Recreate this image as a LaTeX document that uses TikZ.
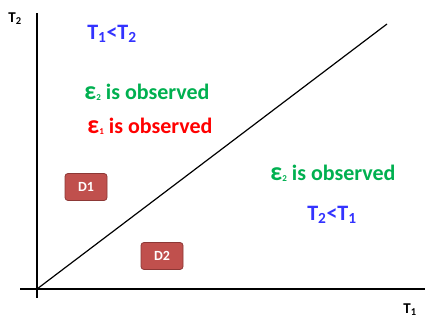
\documentclass[tikz,border=0pt]{standalone}
\usepackage{fontspec}
\setmainfont{Carlito}
\usepackage{tikz}
\usetikzlibrary{arrows.meta}

\definecolor{ltblue}{HTML}{3333FF}
\definecolor{obsgreen}{HTML}{00B050}
\definecolor{obsred}{HTML}{FF0000}
\definecolor{boxfill}{HTML}{C0504D}
\definecolor{boxline}{HTML}{8C3836}

\tikzset{
  dbox/.style={draw=boxline, fill=boxfill, rounded corners=3pt, line width=0.8pt,
    minimum width=42pt, minimum height=27pt, text=white, font=\bfseries\fontsize{14}{14}\selectfont},
  obs/.style={font=\bfseries\fontsize{22}{22}\selectfont},
  rel/.style={text=ltblue, font=\bfseries\fontsize{22}{22}\selectfont},
}
\newcommand{\epsub}[1]{{\fontsize{26}{26}\selectfont ε}{\fontsize{9}{9}\selectfont\raisebox{-1pt}{#1}}}

\begin{document}
\begin{tikzpicture}[x=1pt, y=1pt, >=stealth]
  \useasboundingbox (0,0) rectangle (425,320);
  % axes
  \coordinate (o) at (37,31);
  \coordinate (ytop) at (37,307);
  \coordinate (ybot) at (37,22);
  \coordinate (xleft) at (20,31);
  \coordinate (xright) at (425,31);
  \coordinate (diag) at (387,296);
  \draw[line width=1.6pt] (ybot) -- (ytop);
  \draw[line width=1.6pt] (xleft) -- (xright);
  \draw[line width=1.2pt] (o) -- (diag);
  \node[font=\bfseries\fontsize{15}{15}\selectfont] (t2) at (15,301) {T\textsubscript{2}};
  \node[font=\bfseries\fontsize{15}{15}\selectfont] (t1) at (410,10) {T\textsubscript{1}};
  % regions
  \node[rel] (above) at (112,286) {T\textsubscript{1}<T\textsubscript{2}};
  \node[obs, text=obsgreen] (obsa) at (147,228) {\epsub{2} is observed};
  \node[obs, text=obsred] (obsb) at (150,194) {\epsub{1} is observed};
  \node[obs, text=obsgreen] (obsc) at (333,147) {\epsub{2} is observed};
  \node[rel] (below) at (332,105) {T\textsubscript{2}<T\textsubscript{1}};
  \node[dbox] (d1) at (86,133) {D1};
  \node[dbox] (d2) at (162,64) {D2};
\end{tikzpicture}
\end{document}
